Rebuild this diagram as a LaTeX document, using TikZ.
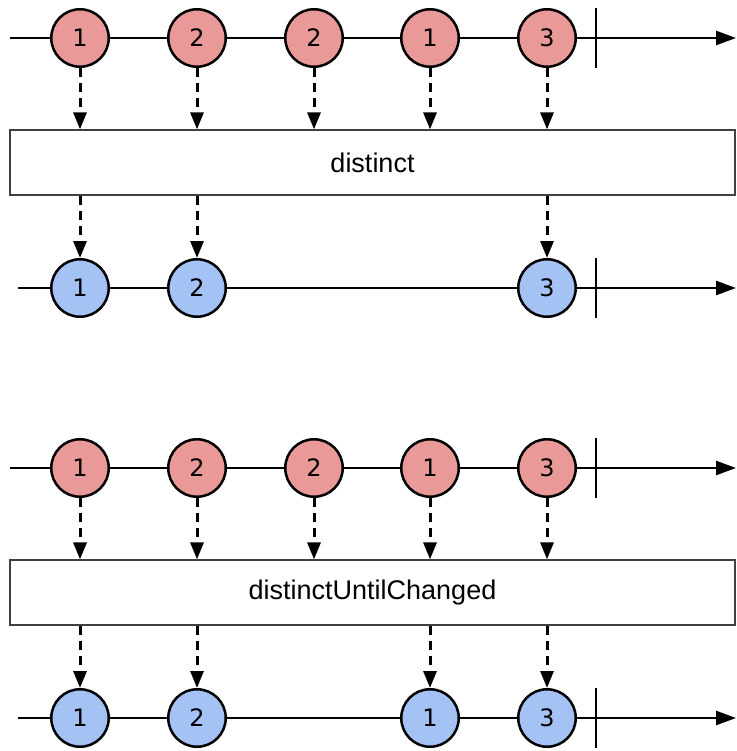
\documentclass[tikz,border=0pt]{standalone}
\usepackage{fontspec}
\setmainfont{Liberation Sans}
\newfontfamily\digitfont{DejaVu Sans}
\usetikzlibrary{arrows.meta}

\definecolor{inred}{HTML}{EA9999}
\definecolor{outblue}{HTML}{A4C2F4}

\tikzset{
  marble/.style={circle, draw, line width=2.5pt, minimum size=57.5pt, inner sep=0pt,
    font=\digitfont\fontsize{24}{28}\selectfont},
  inmarble/.style={marble, fill=inred},
  outmarble/.style={marble, fill=outblue},
  timeline/.style={line width=2.5pt, -{Triangle[length=20pt,width=14pt]}},
  endtick/.style={line width=2.5pt},
  flow/.style={line width=3pt, dash pattern=on 9pt off 6pt,
    -{Triangle[length=17pt,width=13pt]}},
  opbox/.style={draw=black!75, line width=1.2pt, fill=white, minimum width=725pt,
    minimum height=65pt, inner sep=0pt, font=\fontsize{27}{32}\selectfont}
}

\begin{document}
\begin{tikzpicture}[x=1pt, y=-1pt]
  \useasboundingbox (0,0) rectangle (736,751);

  % distinct: input stream
  \coordinate (s1) at (10,38);
  \coordinate (e1) at (736,38);
  \draw[timeline] (s1) -- (e1);
  \draw[endtick] (596,8) -- (596,68);
  \node[inmarble] (a1) at (80,38) {1};
  \node[inmarble] (a2) at (197,38) {2};
  \node[inmarble] (a3) at (314,38) {2};
  \node[inmarble] (a4) at (430,38) {1};
  \node[inmarble] (a5) at (547,38) {3};

  % operator
  \node[opbox] (op1) at (372.5,162.5) {distinct};

  % output stream
  \coordinate (s2) at (18,288);
  \coordinate (e2) at (736,288);
  \draw[timeline] (s2) -- (e2);
  \draw[endtick] (596,258) -- (596,318);
  \node[outmarble] (b1) at (80,288) {1};
  \node[outmarble] (b2) at (197,288) {2};
  \node[outmarble] (b5) at (547,288) {3};

  % arrows into and out of the operator
  \draw[flow] (a1) -- (a1 |- op1.north);
  \draw[flow] (a2) -- (a2 |- op1.north);
  \draw[flow] (a3) -- (a3 |- op1.north);
  \draw[flow] (a4) -- (a4 |- op1.north);
  \draw[flow] (a5) -- (a5 |- op1.north);
  \draw[flow] (op1.south -| b1) -- (b1);
  \draw[flow] (op1.south -| b2) -- (b2);
  \draw[flow] (op1.south -| b5) -- (b5);

  % distinctUntilChanged: input stream
  \coordinate (s3) at (10,468);
  \coordinate (e3) at (736,468);
  \draw[timeline] (s3) -- (e3);
  \draw[endtick] (596,438) -- (596,498);
  \node[inmarble] (c1) at (80,468) {1};
  \node[inmarble] (c2) at (197,468) {2};
  \node[inmarble] (c3) at (314,468) {2};
  \node[inmarble] (c4) at (430,468) {1};
  \node[inmarble] (c5) at (547,468) {3};

  % operator
  \node[opbox] (op2) at (372.5,592.5) {distinctUntilChanged};

  % output stream
  \coordinate (s4) at (18,718);
  \coordinate (e4) at (736,718);
  \draw[timeline] (s4) -- (e4);
  \draw[endtick] (596,688) -- (596,748);
  \node[outmarble] (d1) at (80,718) {1};
  \node[outmarble] (d2) at (197,718) {2};
  \node[outmarble] (d4) at (430,718) {1};
  \node[outmarble] (d5) at (547,718) {3};

  % arrows into and out of the operator
  \draw[flow] (c1) -- (c1 |- op2.north);
  \draw[flow] (c2) -- (c2 |- op2.north);
  \draw[flow] (c3) -- (c3 |- op2.north);
  \draw[flow] (c4) -- (c4 |- op2.north);
  \draw[flow] (c5) -- (c5 |- op2.north);
  \draw[flow] (op2.south -| d1) -- (d1);
  \draw[flow] (op2.south -| d2) -- (d2);
  \draw[flow] (op2.south -| d4) -- (d4);
  \draw[flow] (op2.south -| d5) -- (d5);
\end{tikzpicture}
\end{document}
